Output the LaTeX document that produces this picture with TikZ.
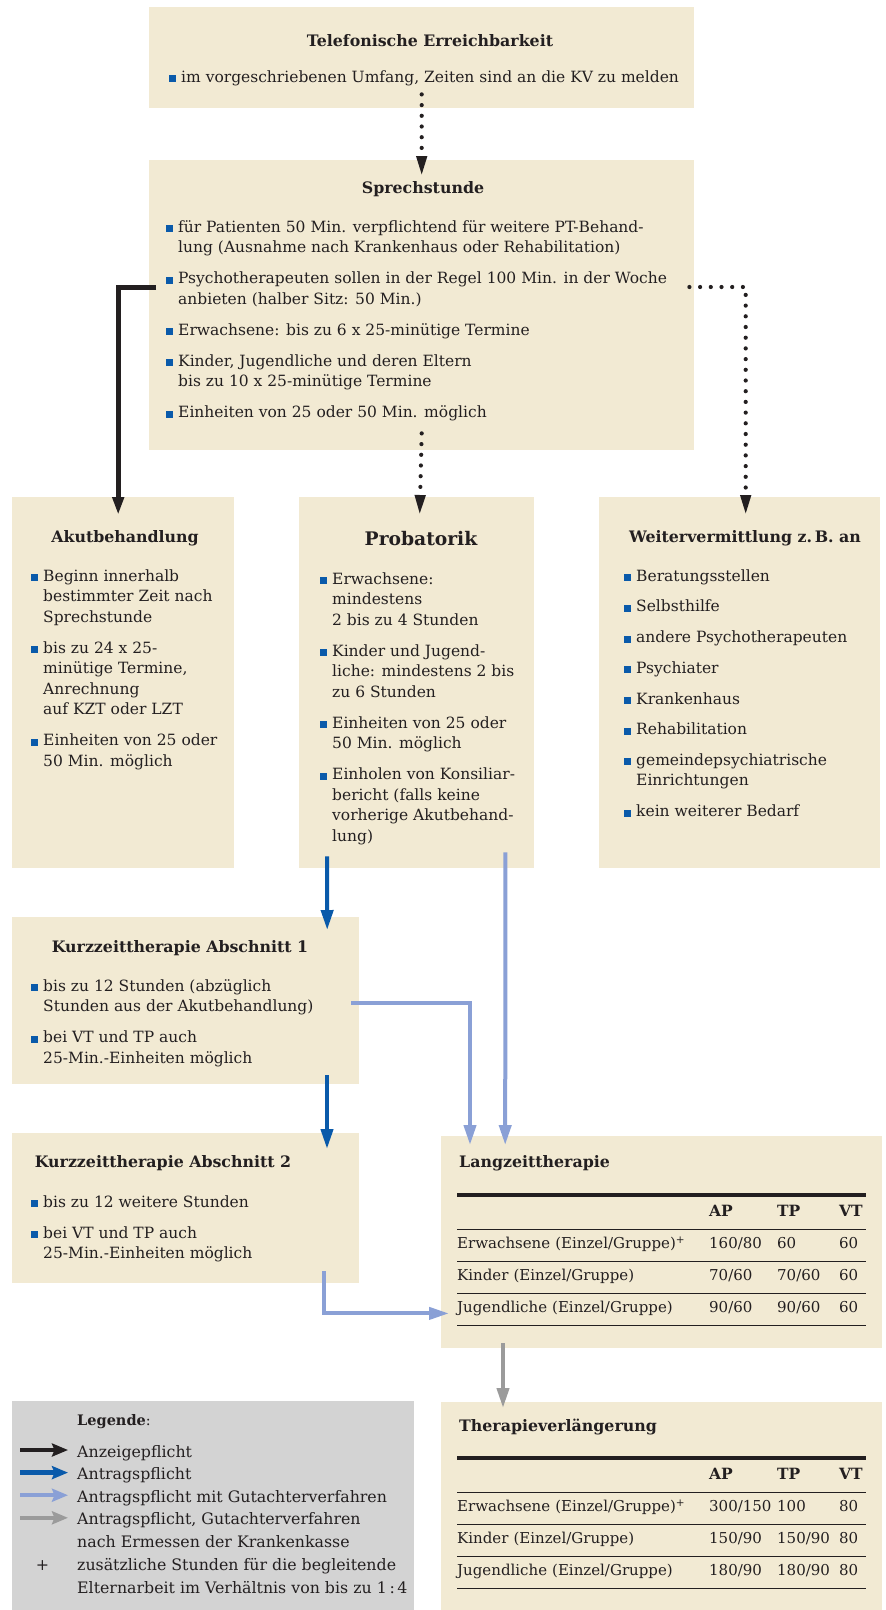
\documentclass[tikz,border=0pt]{standalone}
\usepackage{fontspec}
\setmainfont{DejaVu Serif}
\usetikzlibrary{matrix,
	calc,
	positioning,
	arrows.meta}
\definecolor{boxbg}{RGB}{242,234,211}
\definecolor{leggray}{RGB}{211,211,211}
\definecolor{arrblack}{RGB}{35,31,32}
\definecolor{antrblue}{RGB}{10,90,170}
\definecolor{gutblue}{RGB}{138,160,214}
\definecolor{ermgray}{RGB}{155,155,155}
\newcommand{\bul}{\strut\makebox[0pt][r]{\textcolor{antrblue}{\rule{7pt}{7pt}}\hspace{5pt}}}
\tikzstyle{box}=[fill=boxbg, inner sep=0, anchor=north west]
\tikzstyle{legbox}=[fill=leggray, inner sep=0, anchor=north west]
\tikzstyle{ttl}=[font=\fontsize{15.8}{19}\selectfont\bfseries, inner sep=0, anchor=base]
\tikzstyle{txt}=[font=\fontsize{15.5}{20.5}\selectfont, align=left, inner sep=0,
		anchor=north west]
\tikzstyle{legtxt}=[font=\fontsize{15.8}{22.6}\selectfont, align=left, inner sep=0,
		anchor=base west]
\tikzstyle{tab}=[matrix of nodes, ampersand replacement=\&, inner sep=0,
		anchor=north west, nodes in empty cells,
		nodes={font=\fontsize{15}{18}\selectfont, inner sep=0, minimum height=32,
		text height=11, text depth=4, align=left},
		column 1/.style={nodes={text width=252}},
		column 2/.style={nodes={text width=68}},
		column 3/.style={nodes={text width=62}},
		column 4/.style={nodes={text width=27}}]
\tikzstyle{hd}=[font=\fontsize{15.5}{18}\selectfont\bfseries]
\tikzstyle{rule}=[draw=arrblack, line width=1.3]
\tikzstyle{thickrule}=[draw=arrblack, line width=4]
\tikzstyle{dotarr}=[draw=arrblack, line width=4.2, line cap=round,
		dash pattern=on 0pt off 10.7pt, -{Triangle[length=20pt,width=10pt]}]
\tikzstyle{anz}=[draw=arrblack, line width=5, -{Triangle[length=18pt,width=11pt]}]
\tikzstyle{antr}=[draw=antrblue, line width=4, -{Triangle[length=20pt,width=12pt]}]
\tikzstyle{gut}=[draw=gutblue, line width=4, -{Triangle[length=20pt,width=12pt]}]
\tikzstyle{erm}=[draw=ermgray, line width=4, -{Triangle[length=20pt,width=12pt]}]
\tikzstyle{legarr}=[line width=4.5, -{Stealth[length=16pt,width=13pt,inset=2.5pt]}]

\begin{document}
\begin{tikzpicture}[x=1pt, y=-1pt, color=arrblack]
	\fill[white] (0,0) rectangle (886,1610);
	\useasboundingbox (0,0) rectangle (886,1610);

	% boxes
	\node[box, minimum width=545, minimum height=101] (tel) at (149,7) {};
	\node[box, minimum width=545, minimum height=290] (sprech) at (149,160) {};
	\node[box, minimum width=222, minimum height=371] (akut) at (12,497) {};
	\node[box, minimum width=235, minimum height=371] (prob) at (299,497) {};
	\node[box, minimum width=281, minimum height=371] (weiter) at (599,497) {};
	\node[box, minimum width=347, minimum height=167] (kzt1) at (12,917) {};
	\node[box, minimum width=347, minimum height=150] (kzt2) at (12,1133) {};
	\node[box, minimum width=441, minimum height=212] (lzt) at (441,1136) {};
	\node[box, minimum width=441, minimum height=208] (tvl) at (441,1402) {};
	\node[legbox, minimum width=402, minimum height=209] (leg) at (12,1401) {};

	% titles
	\node[ttl] (teltitle) at (430,46) {Telefonische Erreichbarkeit};
	\node[ttl] (sprechtitle) at (423,193) {Sprechstunde};
	\node[ttl] (akuttitle) at (125,542) {Akutbehandlung};
	\node[ttl, font=\fontsize{18.7}{22}\selectfont\bfseries] (probtitle) at (421,545) {Probatorik};
	\node[ttl] (weitertitle) at (745,542) {Weitervermittlung z.\,B. an};
	\node[ttl] (kzt1title) at (180,952) {Kurzzeittherapie Abschnitt 1};
	\node[ttl] (kzt2title) at (163,1167) {Kurzzeittherapie Abschnitt 2};
	\node[ttl, anchor=base west] (lzttitle) at (459,1167) {Langzeittherapie};
	\node[ttl, anchor=base west] (tvltitle) at (459,1431) {Therapieverlängerung};
	\node[ttl, font=\fontsize{14.5}{18}\selectfont\bfseries, anchor=base west] (legtitle) at (77,1425) {Legende\textmd{:}};

	% bullet lists
	\node[txt] (telitems) at (181,67.65) {\bul im vorgeschriebenen Umfang, Zeiten sind an die KV zu melden};
	\node[txt] (sprechitems) at (178,217.65) {%
		\bul für Patienten 50 Min. verpflichtend für weitere PT-Behand-\\
		lung (Ausnahme nach Krankenhaus oder Rehabilitation)\\[10.5pt]
		\bul Psychotherapeuten sollen in der Regel 100 Min. in der Woche\\
		anbieten (halber Sitz: 50 Min.)\\[10.5pt]
		\bul Erwachsene: bis zu 6 x 25-minütige Termine\\[10.5pt]
		\bul Kinder, Jugendliche und deren Eltern\\
		bis zu 10 x 25-minütige Termine\\[10.5pt]
		\bul Einheiten von 25 oder 50 Min. möglich};
	\node[txt] (akutitems) at (43,566.65) {%
		\bul Beginn innerhalb\\
		bestimmter Zeit nach\\
		Sprechstunde\\[10.5pt]
		\bul bis zu 24 x 25-\\
		minütige Termine,\\
		Anrechnung\\
		auf KZT oder LZT\\[10.5pt]
		\bul Einheiten von 25 oder\\
		50 Min. möglich};
	\node[txt] (probitems) at (332,569.65) {%
		\bul Erwachsene:\\
		mindestens\\
		2 bis zu 4 Stunden\\[10.5pt]
		\bul Kinder und Jugend-\\
		liche: mindestens 2 bis\\
		zu 6 Stunden\\[10.5pt]
		\bul Einheiten von 25 oder\\
		50 Min. möglich\\[10.5pt]
		\bul Einholen von Konsiliar-\\
		bericht (falls keine\\
		vorherige Akutbehand-\\
		lung)};
	\node[txt] (weiteritems) at (636,566.65) {%
		\bul Beratungsstellen\\[10.2pt]
		\bul Selbsthilfe\\[10.2pt]
		\bul andere Psychotherapeuten\\[10.2pt]
		\bul Psychiater\\[10.2pt]
		\bul Krankenhaus\\[10.2pt]
		\bul Rehabilitation\\[10.2pt]
		\bul gemeindepsychiatrische\\
		Einrichtungen\\[10.2pt]
		\bul kein weiterer Bedarf};
	\node[txt] (kzt1items) at (43,976.65) {%
		\bul bis zu 12 Stunden (abzüglich\\
		Stunden aus der Akutbehandlung)\\[10.5pt]
		\bul bei VT und TP auch\\
		25-Min.-Einheiten möglich};
	\node[txt] (kzt2items) at (43,1192.65) {%
		\bul bis zu 12 weitere Stunden\\[10.5pt]
		\bul bei VT und TP auch\\
		25-Min.-Einheiten möglich};

	% tables
	\matrix (lzttab) [tab] at (457,1197) {
		\& |[hd]| AP \& |[hd]| TP \& |[hd]| VT \\
		Erwachsene (Einzel/Gruppe)\textsuperscript{+} \& 160/80 \& 60 \& 60 \\
		Kinder (Einzel/Gruppe) \& 70/60 \& 70/60 \& 60 \\
		Jugendliche (Einzel/Gruppe) \& 90/60 \& 90/60 \& 60 \\
	};
	\draw[thickrule] ([yshift=2]lzttab.north west) -- ([yshift=2]lzttab.north east);
	\draw[rule] (lzttab-1-1.south west) -- (lzttab-1-4.south east);
	\draw[rule] (lzttab-2-1.south west) -- (lzttab-2-4.south east);
	\draw[rule] (lzttab-3-1.south west) -- (lzttab-3-4.south east);
	\draw[rule] (lzttab-4-1.south west) -- (lzttab-4-4.south east);

	\matrix (tvltab) [tab] at (457,1460) {
		\& |[hd]| AP \& |[hd]| TP \& |[hd]| VT \\
		Erwachsene (Einzel/Gruppe)\textsuperscript{+} \& 300/150 \& 100 \& 80 \\
		Kinder (Einzel/Gruppe) \& 150/90 \& 150/90 \& 80 \\
		Jugendliche (Einzel/Gruppe) \& 180/90 \& 180/90 \& 80 \\
	};
	\draw[thickrule] ([yshift=2]tvltab.north west) -- ([yshift=2]tvltab.north east);
	\draw[rule] (tvltab-1-1.south west) -- (tvltab-1-4.south east);
	\draw[rule] (tvltab-2-1.south west) -- (tvltab-2-4.south east);
	\draw[rule] (tvltab-3-1.south west) -- (tvltab-3-4.south east);
	\draw[rule] (tvltab-4-1.south west) -- (tvltab-4-4.south east);

	% legend
	\node[legtxt] (l1) at (77,1457) {Anzeigepflicht};
	\node[legtxt] (l2) at (77,1479.6) {Antragspflicht};
	\node[legtxt] (l3) at (77,1502.2) {Antragspflicht mit Gutachterverfahren};
	\node[legtxt] (l4) at (77,1547.4) {Antragspflicht, Gutachterverfahren\\
		nach Ermessen der Krankenkasse};
	\node[legtxt] (l5) at (77,1593) {\llap{+\hspace{28pt}}zusätzliche Stunden für die begleitende\\
		Elternarbeit im Verhältnis von bis zu 1\,:\,4};
	\draw[legarr, arrblack] ([shift={(-57,-7)}]l1.base west) -- ([shift={(-9,-7)}]l1.base west);
	\draw[legarr, antrblue] ([shift={(-57,-7)}]l2.base west) -- ([shift={(-9,-7)}]l2.base west);
	\draw[legarr, gutblue] ([shift={(-57,-7)}]l3.base west) -- ([shift={(-9,-7)}]l3.base west);
	\draw[legarr, ermgray] ([shift={(-57,-29.6)}]l4.base west) -- ([shift={(-9,-29.6)}]l4.base west);

	% connectors
	\draw[dotarr] ([yshift=14]tel.south) -- ([yshift=-16]sprech.north);
	\draw[anz] ([shift={(7,127)}]sprech.north west) -| ([shift={(-5,18)}]akut.north);
	\draw[dotarr] ([shift={(-5,127)}]sprech.north east) -| ([shift={(6,18)}]weiter.north);
	\draw[dotarr] ([yshift=17]sprech.south) -- ([shift={(3,18)}]prob.north);
	\draw[antr] ([shift={(28,-12)}]prob.south west) -- ([shift={(141.5,13)}]kzt1.north);
	\draw[gut] ([shift={(-29,-16)}]prob.south east) -- ([shift={(-156.5,9)}]lzt.north);
	\draw[gut] ([shift={(-8,2)}]kzt1.east) -| ([shift={(29,9)}]lzt.north west);
	\draw[antr] ([shift={(315,-9)}]kzt1.south west) -- ([shift={(315,16)}]kzt2.north west);
	\draw[gut] ([shift={(312,-12)}]kzt2.south west) |- ([shift={(8,-35)}]lzt.south west);
	\draw[erm] ([shift={(62,-5)}]lzt.south west) -- ([shift={(62,6)}]tvl.north west);
\end{tikzpicture}
\end{document}
